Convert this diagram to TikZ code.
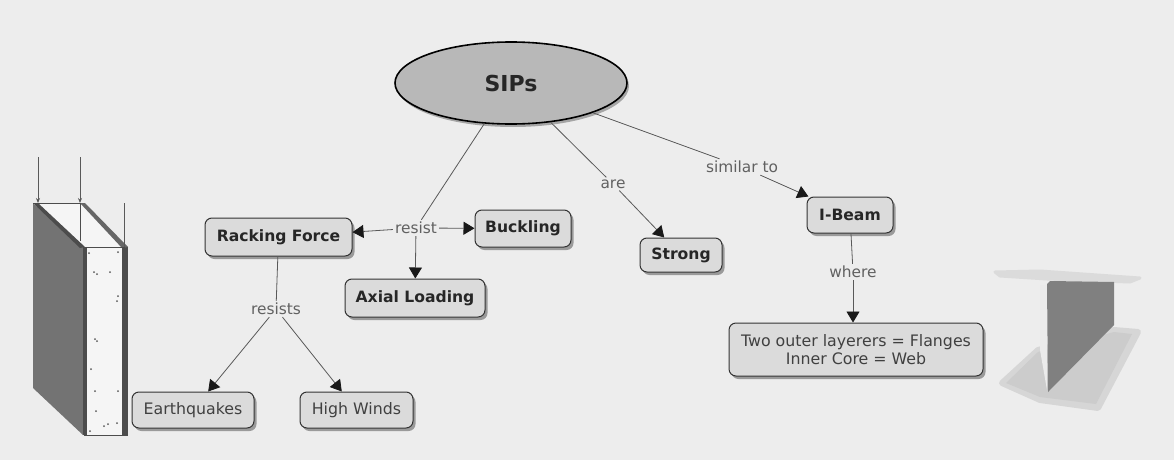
\documentclass[tikz,border=0pt]{standalone}
\usepackage{fontspec}
\setmainfont{DejaVu Sans}
\usetikzlibrary{arrows.meta,shapes.geometric,shadows}
\definecolor{paper}{gray}{0.93}
\definecolor{boxfill}{gray}{0.86}
\definecolor{linkgrey}{gray}{0.35}
\tikzset{
        >={Triangle[length=11pt,width=13pt,fill=black!90,color=black!90]},
        bubble/.style={draw=black!80,line width=1pt,rounded corners=7pt,fill=boxfill,
                drop shadow={shadow xshift=2.5pt,shadow yshift=-3pt,fill=black,opacity=0.35}},
        concept/.style={bubble,font=\bfseries\fontsize{15.6}{18}\selectfont,text=black!85},
        leaf/.style={bubble,font=\fontsize{15.8}{18}\selectfont,text=black!75,align=center},
        linkword/.style={font=\fontsize{15.4}{18}\selectfont,text=black!62,inner sep=2pt},
        link/.style={draw=linkgrey,line width=0.8pt},
        wallline/.style={draw=black!70,line width=0.8pt},
}
\begin{document}
\begin{tikzpicture}[x=1pt,y=-1pt]
        \useasboundingbox (0,0) rectangle (1174,460);
        \fill[paper] (0,0) rectangle (1174,460);

        \fill[black!55] (33,203) -- (83,247) -- (83,435) -- (33,388) -- cycle;
        \fill[white!96!black] (83,247) rectangle (128,435);
        \fill[black!70] (83,247) rectangle (87,435);
        \fill[black!70] (122,247) rectangle (128,435);
        \fill[white!96!black] (33,203) -- (80,203) -- (125,247) -- (83,247) -- cycle;
        \fill[black!70] (33,203) -- (38,203) -- (85,247) -- (80,248) -- cycle;
        \fill[black!60] (80,203) -- (85,203) -- (128,247) -- (122,248) -- cycle;
        \draw[wallline] (33,203) -- (80,203);
        \draw[wallline] (83,247) -- (125,247);
        \draw[wallline] (80,203) -- (80,241);
        \draw[wallline] (84,435) -- (128,435);
        \foreach \px/\py in {94/272,97/274,110/272,118/296,117/301,95/339,97/341,91/369,95/391,118/391,96/411,104/426,108/424,117/423,90/431,89/253,118/252}
                \fill[black!65] (\px,\py) circle (1pt);

        \coordinate (load1top) at (38,157);
        \coordinate (load1end) at (38,203);
        \coordinate (load2top) at (80,157);
        \coordinate (load2end) at (80,203);
        \coordinate (load3top) at (124,203);
        \coordinate (load3end) at (124,247);
        \draw[link,-{Stealth[length=5pt,width=4pt]}] (load1top) -- (load1end);
        \draw[link,-{Stealth[length=5pt,width=4pt]}] (load2top) -- (load2end);
        \draw[link] (load3top) -- (load3end);

        \fill[black!16,draw=black!16,line width=6pt,line join=round] (1038,350) -- (1002,383) -- (1040,400) -- (1098,408) -- (1138,332) -- (1114,330) -- cycle;
        \fill[black!20] (1038,352) -- (1006,383) -- (1040,397) -- (1096,404) -- (1132,334) -- (1114,332) -- cycle;
        \fill[black!14,draw=black!14,line width=3pt,line join=round] (995,272) -- (1040,271) -- (1140,278) -- (1130,282) -- (1047,279) -- (1000,276) -- cycle;
        \fill[white!92!black] (1040,285) -- (1047,285) -- (1047,390) -- (1040,350) -- cycle;
        \fill[black!50] (1047,284) -- (1050,281) -- (1114,282) -- (1114,325) -- (1048,392) -- cycle;

        \node[ellipse,draw=black,line width=1.6pt,fill=black!28,minimum width=232pt,minimum height=82pt,inner sep=0pt,font=\bfseries\fontsize{22}{24}\selectfont,text=black!85,
                drop shadow={shadow xshift=2pt,shadow yshift=-3pt,fill=black,opacity=0.3}] (sips) at (511,83) {SIPs};
        \node[concept,minimum width=147pt,minimum height=38pt] (racking) at (278.5,237) {Racking Force};
        \node[concept,minimum width=96pt,minimum height=37pt] (buckling) at (523,228.5) {Buckling};
        \node[concept,minimum width=140pt,minimum height=38pt] (axial) at (415,298) {Axial Loading};
        \node[concept,minimum width=82pt,minimum height=34pt] (strong) at (681,255) {Strong};
        \node[concept,minimum width=86pt,minimum height=36pt] (ibeam) at (850,215) {I-Beam};
        \node[leaf,minimum width=254pt,minimum height=53pt] (layers) at (856,349.5) {Two outer layerers = Flanges\\Inner Core = Web};
        \node[leaf,minimum width=122pt,minimum height=36pt] (quakes) at (193,410) {Earthquakes};
        \node[leaf,minimum width=113pt,minimum height=36pt] (winds) at (356.5,410) {High Winds};

        \node[linkword] (resist) at (416,228) {resist};
        \node[linkword] (resists) at (276,309) {resists};
        \node[linkword] (are) at (613,184) {are};
        \node[linkword] (similar) at (742,167) {similar to};
        \node[linkword] (where) at (853,272) {where};

        \draw[link] (sips) -- (resist);
        \draw[link] (sips) -- (are);
        \draw[link] (sips) -- (similar);
        \draw[link,->] (resist) -- (racking);
        \draw[link,->] (resist) -- (buckling);
        \draw[link,->] (resist) -- (axial);
        \draw[link,->] (are) -- (strong);
        \draw[link,->] (similar) -- (ibeam);
        \draw[link] (ibeam) -- (where);
        \draw[link,->] (where) -- (layers.north -| where);
        \draw[link] (racking) -- (resists);
        \draw[link,->] (resists) -- (quakes);
        \draw[link,->] (resists) -- (winds);
\end{tikzpicture}
\end{document}
